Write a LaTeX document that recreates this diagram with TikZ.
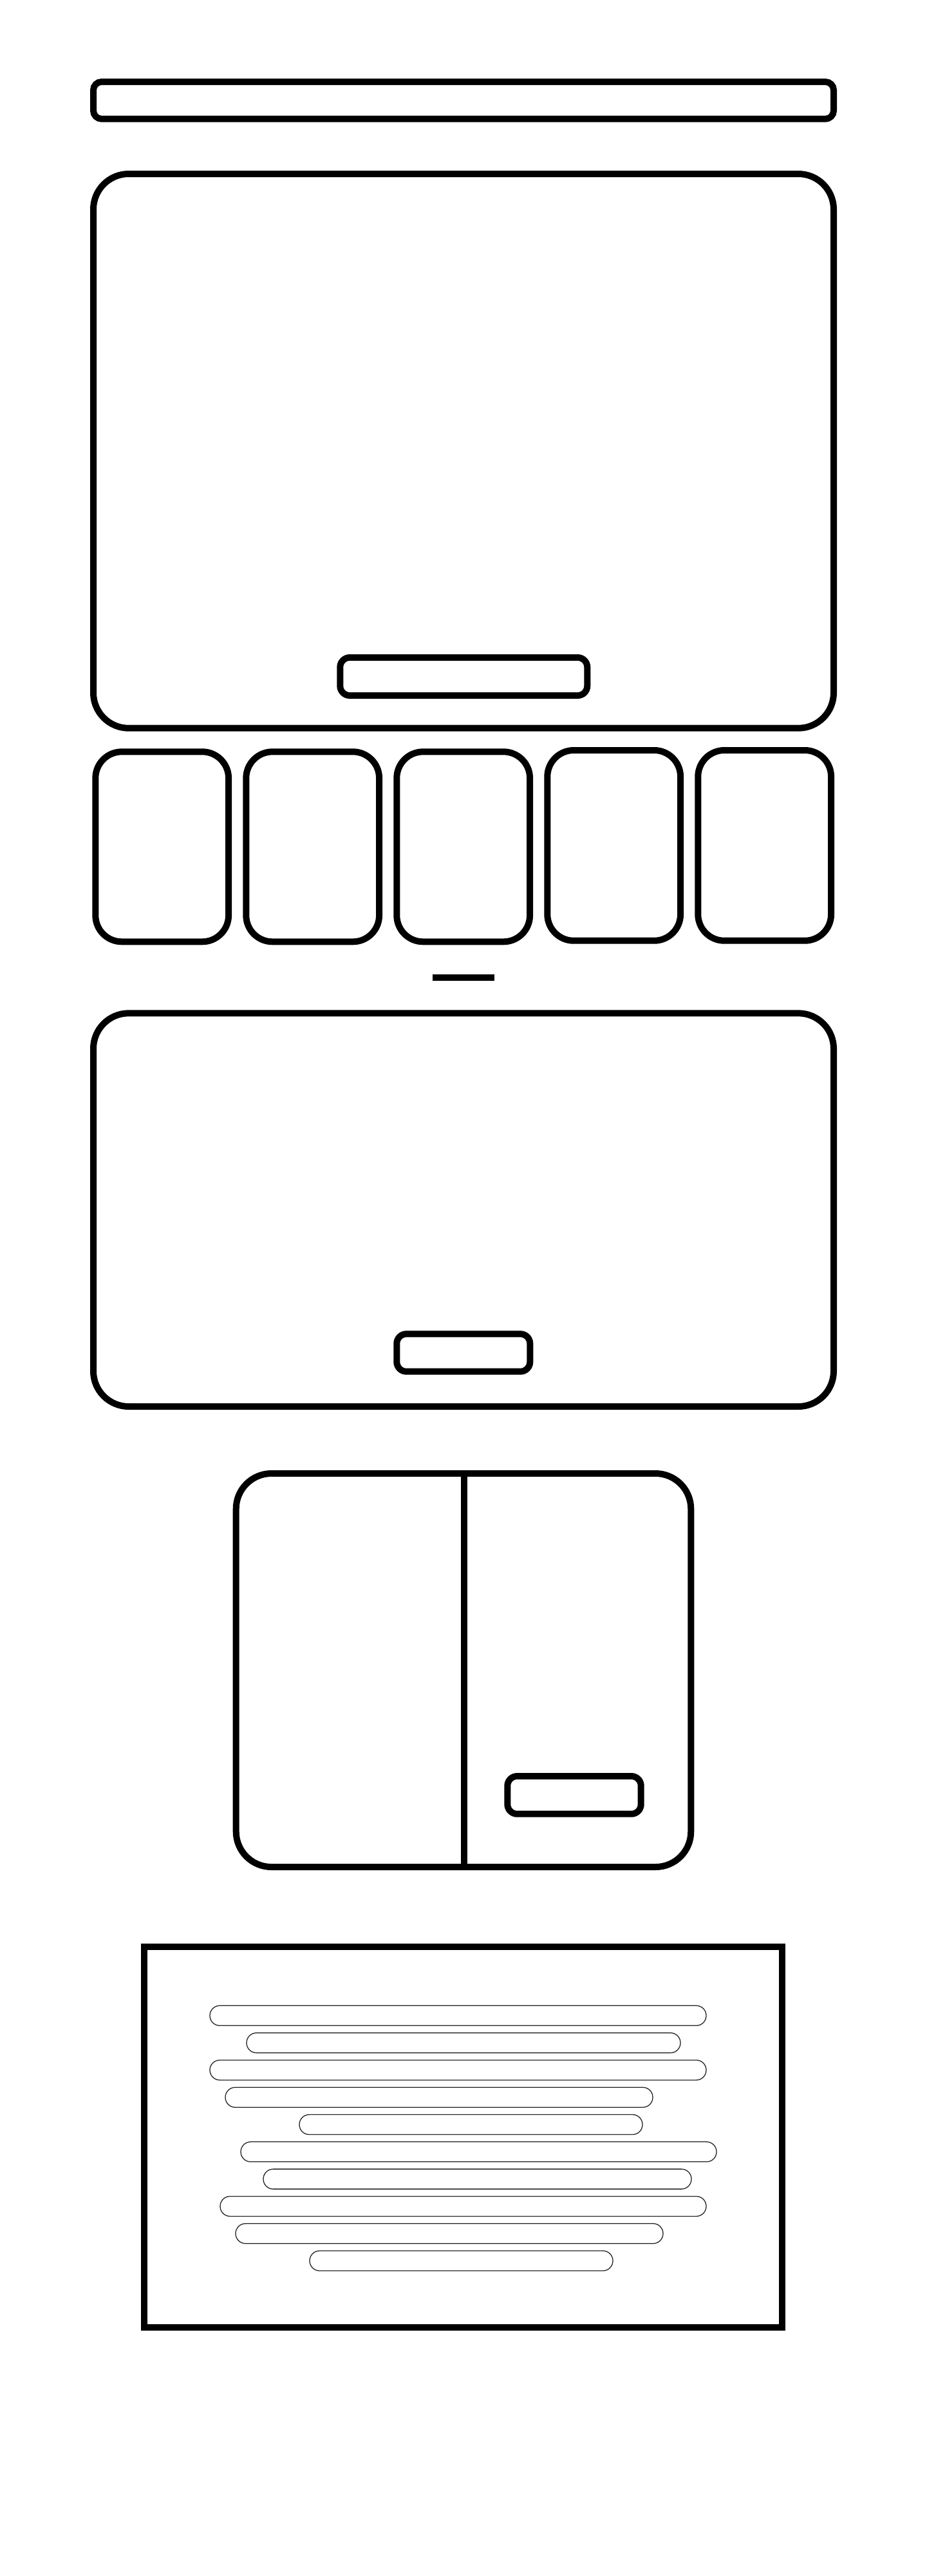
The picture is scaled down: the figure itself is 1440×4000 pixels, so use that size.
\documentclass[tikz,border=0pt]{standalone}
\usepackage{tikz}
\usetikzlibrary{positioning}

\tikzset{
  panel/.style={draw=black, line width=5pt, rounded corners=27.5pt},
  bar/.style={draw=black, line width=5pt, rounded corners=6.5pt},
  btn/.style={draw=black, line width=5pt, rounded corners=7.5pt},
  card/.style={draw=black, line width=5pt, rounded corners=20.5pt},
  pill/.style={draw=black!85, line width=0.65pt, rounded corners=7.7pt}
}

\begin{document}
\begin{tikzpicture}[x=0.5pt, y=-0.5pt]
  \useasboundingbox[fill=white] (0,0) rectangle (1440,4000);

  % Header bar
  \draw[bar] (145,127) rectangle (1295,184.7);

  % Hero panel
  \draw[panel] (145,270) rectangle (1295,1130.7);
  \draw[btn] (528.3,1021) rectangle (912.3,1080);

  % Card row
  \draw[card] (148.3,1167.3) rectangle (355.1,1462.3);
  \draw[card] (382.3,1167.3) rectangle (589.1,1462.3);
  \draw[card] (616.3,1167.3) rectangle (823.1,1462.3);
  \draw[card] (850.3,1165) rectangle (1057.1,1460.7);
  \draw[card] (1084.3,1165) rectangle (1291.1,1460.7);

  % Separator
  \draw[line width=5.25pt] (672,1518) -- (768,1518);

  % Second panel
  \draw[panel] (145,1573.3) rectangle (1295,2184);
  \draw[btn] (616.3,2071.3) rectangle (823.3,2129.7);

  % Split panel
  \draw[panel] (366.7,2288) rectangle (1073.3,2899);
  \draw[line width=5pt] (720.5,2288) -- (720.5,2902);
  \draw[btn] (788.3,2758) rectangle (995.7,2816.7);

  % Text block
  \draw[line width=5pt] (224,3023) rectangle (1215,3614);
  \draw[pill] (326,3114.3) rectangle (1097,3145.3);
  \draw[pill] (383,3156.6) rectangle (1057,3187.6);
  \draw[pill] (326,3198.9) rectangle (1097,3229.9);
  \draw[pill] (350,3241.2) rectangle (1014,3272.2);
  \draw[pill] (465,3283.5) rectangle (998,3314.5);
  \draw[pill] (374,3325.8) rectangle (1113,3356.8);
  \draw[pill] (409,3368.1) rectangle (1074,3399.1);
  \draw[pill] (342,3410.4) rectangle (1097,3441.4);
  \draw[pill] (366,3452.7) rectangle (1030,3483.7);
  \draw[pill] (481,3495.0) rectangle (952,3526.0);
\end{tikzpicture}
\end{document}
